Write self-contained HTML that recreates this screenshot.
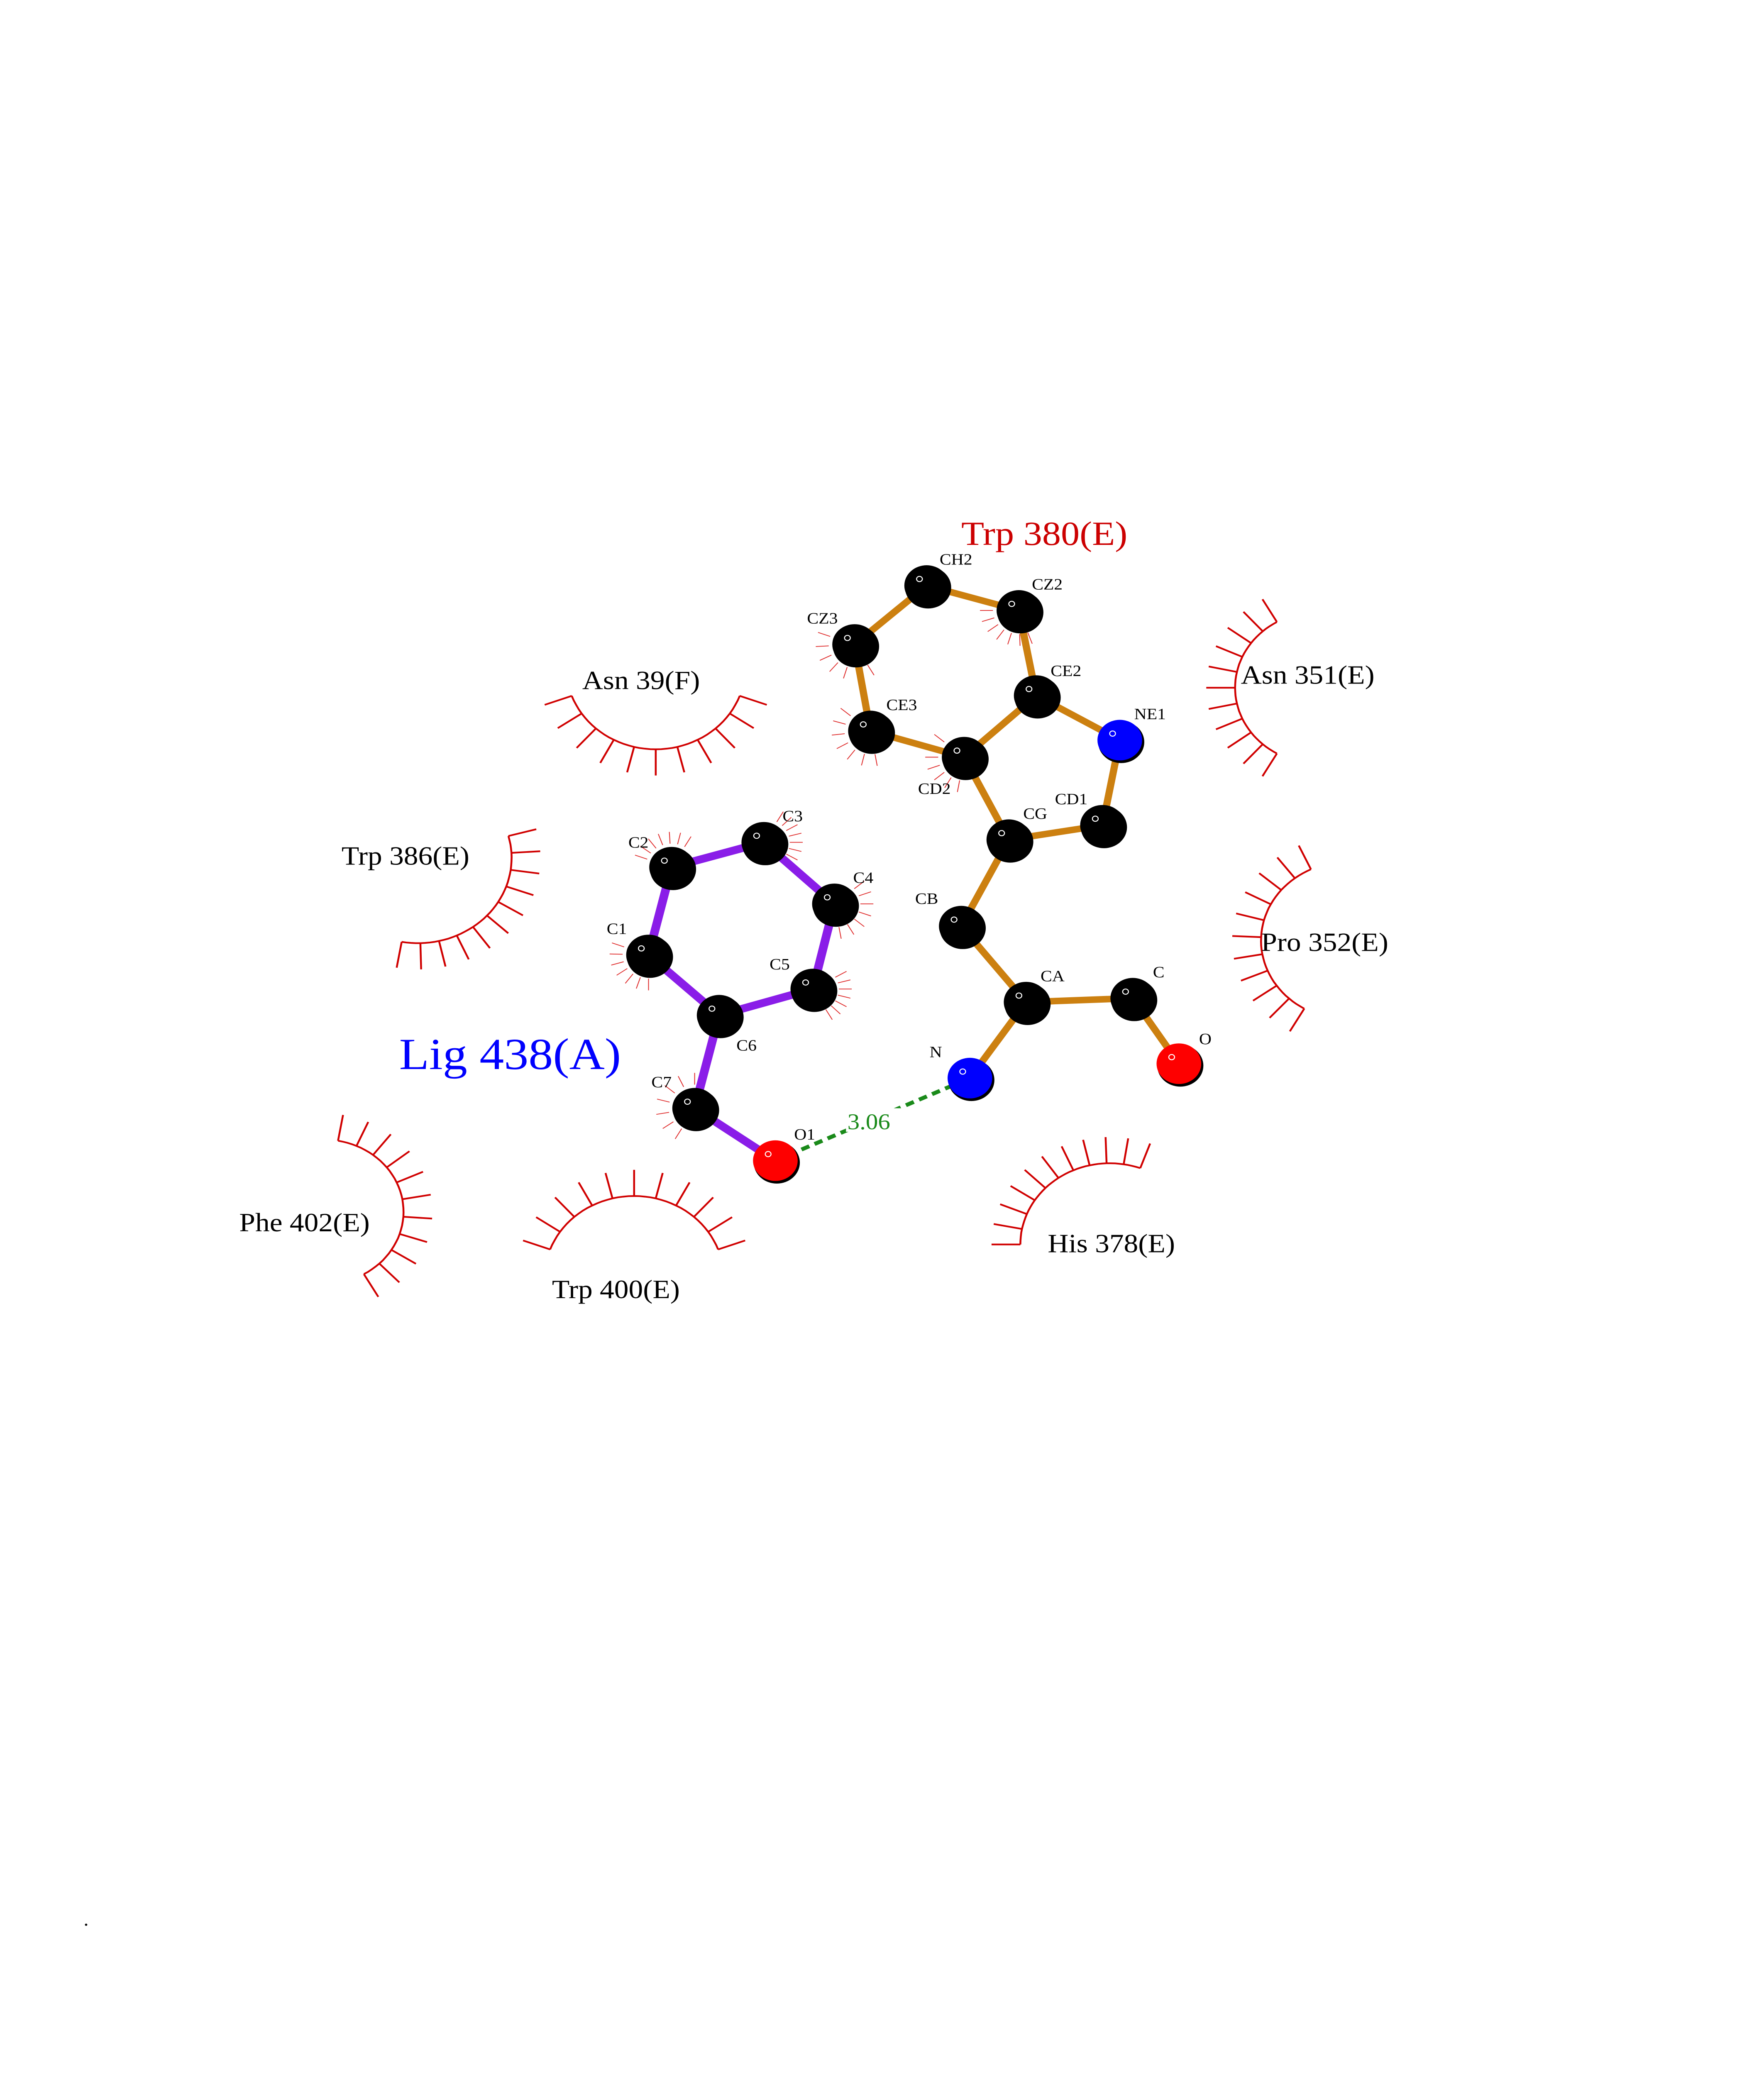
<!DOCTYPE html>
<html><head><meta charset="utf-8">
<style>
html,body{margin:0;padding:0;background:#fff;width:100%;height:100%;overflow:hidden;}
svg{display:block;position:absolute;left:0;top:0;width:100vw;height:100vh;}
text{font-family:"Liberation Serif",serif;}
</style></head>
<body>
<svg id="s" xmlns="http://www.w3.org/2000/svg" viewBox="0 0 1224 1584" preserveAspectRatio="none">
<rect width="1224" height="1584" fill="#fff"/>
<g id="arcs" stroke="#d00000" stroke-width="1.3" fill="none"></g>
<g id="ticks" stroke="#e03030" stroke-width="0.6" fill="none"></g>
<g stroke="#cc8010" stroke-width="5" stroke-linecap="round">
<line x1="643" y1="447" x2="707" y2="466"/>
<line x1="643" y1="447" x2="593" y2="492"/>
<line x1="707" y1="466" x2="719" y2="531"/>
<line x1="593" y1="492" x2="604" y2="558"/>
<line x1="604" y1="558" x2="669" y2="578"/>
<line x1="719" y1="531" x2="669" y2="578"/>
<line x1="719" y1="531" x2="777" y2="565"/>
<line x1="777" y1="565" x2="765" y2="630"/>
<line x1="765" y1="630" x2="700" y2="641"/>
<line x1="700" y1="641" x2="669" y2="578"/>
<line x1="700" y1="641" x2="667" y2="707"/>
<line x1="667" y1="707" x2="712" y2="765"/>
<line x1="712" y1="765" x2="786" y2="762"/>
<line x1="786" y1="762" x2="818" y2="812"/>
<line x1="712" y1="765" x2="673" y2="823"/>
</g>
<g stroke="#8a1ee8" stroke-width="6" stroke-linecap="round">
<line x1="466" y1="662" x2="530" y2="643"/>
<line x1="530" y1="643" x2="579" y2="690"/>
<line x1="579" y1="690" x2="564" y2="755"/>
<line x1="564" y1="755" x2="499" y2="775"/>
<line x1="499" y1="775" x2="450" y2="729"/>
<line x1="450" y1="729" x2="466" y2="662"/>
<line x1="499" y1="775" x2="482" y2="846"/>
<line x1="482" y1="846" x2="538" y2="886"/>
</g>
<line x1="538" y1="886" x2="673" y2="823" stroke="#1a8a1a" stroke-width="3" stroke-dasharray="6,4"/>
<rect x="587" y="846" width="40" height="18" fill="#fff"/>
<g id="atoms"></g>
<g font-size="12" fill="#000">
<text x="652" y="431">CH2</text><text x="716" y="450">CZ2</text><text x="560" y="476">CZ3</text>
<text x="729" y="516">CE2</text><text x="615" y="542">CE3</text><text x="787" y="549">NE1</text>
<text x="637" y="606">CD2</text><text x="710" y="625">CG</text><text x="732" y="614">CD1</text>
<text x="635" y="690">CB</text><text x="722" y="749">CA</text><text x="800" y="746">C</text>
<text x="832" y="797">O</text><text x="645" y="807">N</text>
<text x="436" y="647">C2</text><text x="543" y="627">C3</text><text x="592" y="674">C4</text>
<text x="534" y="740">C5</text><text x="421" y="713">C1</text><text x="511" y="802">C6</text>
<text x="452" y="830">C7</text><text x="551" y="870">O1</text>
</g>
<text x="588" y="862" font-size="17" fill="#1a8a1a">3.06</text>
<text x="667" y="416" font-size="26" fill="#cc0000">Trp 380(E)</text>
<text x="277" y="816" font-size="34" fill="#0000ff">Lig 438(A)</text>
<g font-size="20" fill="#000">
<text x="404" y="526">Asn 39(F)</text>
<text x="237" y="660">Trp 386(E)</text>
<text x="861" y="522">Asn 351(E)</text>
<text x="875" y="726">Pro 352(E)</text>
<text x="727" y="956">His 378(E)</text>
<text x="383" y="991">Trp 400(E)</text>
<text x="166" y="940">Phe 402(E)</text>
</g>
<text x="58" y="1470" font-size="14">.</text>
</svg>
<script>
var NS="http://www.w3.org/2000/svg";
function el(p,n,a){var e=document.createElementNS(NS,n);for(var k in a)e.setAttribute(k,a[k]);p.appendChild(e);return e;}
var arcs=document.getElementById("arcs");
function arc(cx,cy,r,a1,a2,n,L){
 var d="",steps=40;
 for(var i=0;i<=steps;i++){var a=(a1+(a2-a1)*i/steps)*Math.PI/180;d+=(i?"L":"M")+(cx+r*Math.cos(a)).toFixed(1)+","+(cy+r*Math.sin(a)).toFixed(1);}
 el(arcs,"path",{d:d});
 for(var j=0;j<n;j++){var a=(a1+(a2-a1)*j/(n-1))*Math.PI/180;
  el(arcs,"line",{x1:cx+r*Math.cos(a),y1:cy+r*Math.sin(a),x2:cx+(r+L)*Math.cos(a),y2:cy+(r+L)*Math.sin(a)});}
}
arc(455,510,62,20,160,11,20);
arc(290,655,65,-15,100,11,20);
arc(915,525,58,120,240,11,20);
arc(935,718,60,120,245,11,20);
arc(770,950,62,180,290,11,20);
arc(440,975,62,200,340,11,20);
arc(225,925,55,-80,60,11,20);
var ticks=document.getElementById("ticks");
function tk(cx,cy,a1,a2){for(var j=0;j<7;j++){var a=(a1+(a2-a1)*j/6)*Math.PI/180;
 el(ticks,"line",{x1:cx+18*Math.cos(a),y1:cy+18*Math.sin(a),x2:cx+27*Math.cos(a),y2:cy+27*Math.sin(a)});}}
tk(593,492,60,200);tk(604,558,80,220);tk(707,466,70,180);tk(669,578,100,220);
tk(482,846,120,270);tk(450,729,90,200);tk(466,662,200,300);tk(530,643,-60,30);
tk(579,690,-40,80);tk(564,755,-30,60);
var atoms=document.getElementById("atoms");
var A=[[643,447,"#000"],[707,466,"#000"],[593,492,"#000"],[719,531,"#000"],[604,558,"#000"],[777,565,"#0000ff"],[669,578,"#000"],[700,641,"#000"],[765,630,"#000"],[667,707,"#000"],[712,765,"#000"],[786,762,"#000"],[818,812,"#ff0000"],[673,823,"#0000ff"],
[466,662,"#000"],[530,643,"#000"],[579,690,"#000"],[564,755,"#000"],[450,729,"#000"],[499,775,"#000"],[482,846,"#000"],[538,886,"#ff0000"]];
A.forEach(function(p){el(atoms,"circle",{cx:p[0]+1,cy:p[1]+1.5,r:16,fill:"#000"});
 el(atoms,"circle",{cx:p[0],cy:p[1],r:15.5,fill:p[2]});
 el(atoms,"circle",{cx:p[0]-5,cy:p[1]-5,r:2,fill:"none",stroke:"#fff","stroke-width":0.7});});
</script>
</body></html>
